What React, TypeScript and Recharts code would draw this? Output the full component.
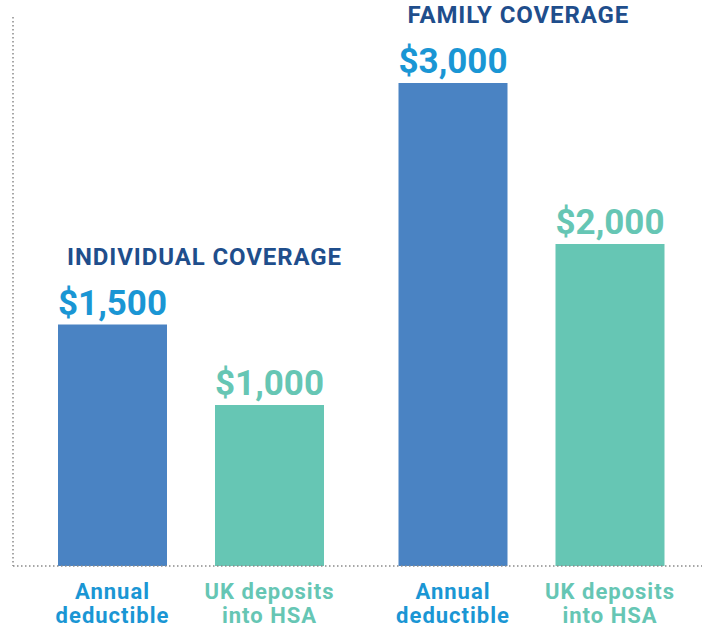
import { BarChart, Bar, XAxis, YAxis, LabelList } from "recharts";

const groups = ["INDIVIDUAL COVERAGE", "FAMILY COVERAGE"];
const deductible = [1500, 3000];
const deposits = [1000, 2000];
const deductibleLabel = ["Annual", "deductible"];
const depositsLabel = ["UK deposits", "into HSA"];

const data = groups.map((g, i) => ({
  group: g,
  deductible: deductible[i],
  deposits: deposits[i],
}));

const FONT = "Roboto, 'Open Sans', sans-serif";
const BLUE_BAR = "#4a83c3";
const TEAL = "#66c6b4";
const BLUE_TEXT = "#1a96d4";
const NAVY = "#1f4e8c";
const AXIS = { stroke: "#8a8a8a", strokeWidth: 1.5, strokeDasharray: "1.5 2.5" };

const money = (v: number) => "$" + v.toLocaleString("en-US");

function valueLabel(color: string, lines: string[], withTitle: boolean) {
  return (props: any) => {
    const { x, y, width, height, value, index } = props;
    const cx = x + width / 2;
    const base = y + height;
    return (
      <g>
        {withTitle && (
          <text x={x + 9} y={y - 60} fill={NAVY} fontFamily={FONT} fontWeight={700} fontSize={24} letterSpacing={0.9}>
            {groups[index]}
          </text>
        )}
        <text x={cx} y={y - 10} textAnchor="middle" fill={color} fontFamily={FONT} fontWeight={700} fontSize={35}>
          {money(value)}
        </text>
        <text x={cx} y={base + 33} textAnchor="middle" fill={color} fontFamily={FONT} fontWeight={700} fontSize={22} letterSpacing={1}>
          {lines[0]}
        </text>
        <text x={cx} y={base + 57} textAnchor="middle" fill={color} fontFamily={FONT} fontWeight={700} fontSize={22} letterSpacing={1}>
          {lines[1]}
        </text>
      </g>
    );
  };
}

export default function App() {
  return (
    <div style={{ position: "absolute", left: 0, top: 0, width: 702, height: 628, background: "#fff" }}>
      <BarChart
        width={702}
        height={628}
        data={data}
        margin={{ top: 17, right: 0, bottom: 61, left: 12 }}
        barSize={109}
        barGap={48}
      >
        <XAxis
          dataKey="group"
          tick={false}
          tickLine={false}
          height={1}
          padding={{ left: 8, right: 0 }}
          axisLine={AXIS}
        />
        <YAxis domain={[0, 3410]} tick={false} tickLine={false} width={1} axisLine={AXIS} />
        <Bar dataKey="deductible" fill={BLUE_BAR} isAnimationActive={false}>
          <LabelList dataKey="deductible" content={valueLabel(BLUE_TEXT, deductibleLabel, true)} />
        </Bar>
        <Bar dataKey="deposits" fill={TEAL} isAnimationActive={false}>
          <LabelList dataKey="deposits" content={valueLabel(TEAL, depositsLabel, false)} />
        </Bar>
      </BarChart>
    </div>
  );
}
